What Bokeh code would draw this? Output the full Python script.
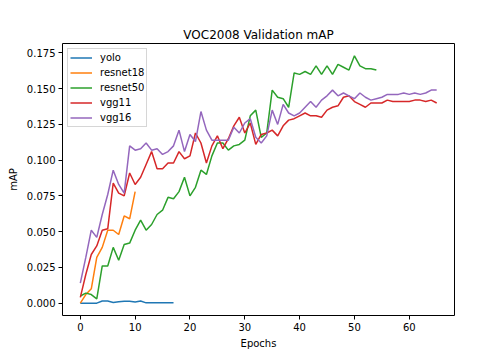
from bokeh.plotting import figure
from bokeh.models import Range1d, FixedTicker, PrintfTickFormatter, Legend
from bokeh.embed import file_html
from bokeh.resources import INLINE

yolo = [0.000, 0.000, 0.000, 0.000, 0.0015, 0.0015, 0.0005, 0.001, 0.0013, 0.0013,
        0.0008, 0.0015, 0.0002, 0.0002, 0.0002, 0.0002, 0.0002, 0.0002]
resnet18 = [0.000, 0.006, 0.010, 0.032, 0.039, 0.051, 0.051, 0.048, 0.061, 0.059, 0.078]
resnet50 = [0.005, 0.007, 0.006, 0.003, 0.026, 0.026, 0.039, 0.030, 0.041, 0.042,
            0.051, 0.058, 0.051, 0.055, 0.062, 0.065, 0.074, 0.073, 0.078, 0.088,
            0.075, 0.081, 0.093, 0.090, 0.103, 0.112, 0.112, 0.107, 0.110, 0.111,
            0.114, 0.131, 0.135, 0.116, 0.119, 0.149, 0.144, 0.143, 0.137, 0.161,
            0.160, 0.162, 0.160, 0.166, 0.160, 0.166, 0.160, 0.167, 0.165, 0.163,
            0.173, 0.166, 0.164, 0.164, 0.163]
vgg11 = [0.004, 0.020, 0.034, 0.040, 0.051, 0.052, 0.084, 0.077, 0.075, 0.091,
         0.083, 0.088, 0.097, 0.106, 0.094, 0.094, 0.098, 0.098, 0.106, 0.101,
         0.103, 0.119, 0.112, 0.098, 0.110, 0.117, 0.108, 0.115, 0.124, 0.130,
         0.119, 0.126, 0.111, 0.118, 0.119, 0.121, 0.117, 0.124, 0.128, 0.129,
         0.131, 0.133, 0.131, 0.131, 0.130, 0.135, 0.137, 0.138, 0.144, 0.145,
         0.141, 0.139, 0.137, 0.140, 0.140, 0.140, 0.142, 0.141, 0.141, 0.141,
         0.141, 0.142, 0.142, 0.141, 0.142, 0.140]
vgg16 = [0.014, 0.032, 0.051, 0.046, 0.062, 0.076, 0.093, 0.083, 0.077, 0.110,
         0.107, 0.108, 0.112, 0.107, 0.108, 0.104, 0.106, 0.110, 0.121, 0.106,
         0.118, 0.113, 0.134, 0.121, 0.114, 0.114, 0.114, 0.114, 0.123, 0.119,
         0.126, 0.129, 0.116, 0.112, 0.117, 0.135, 0.125, 0.139, 0.133, 0.131,
         0.133, 0.137, 0.141, 0.137, 0.142, 0.145, 0.149, 0.145, 0.147, 0.145,
         0.143, 0.147, 0.144, 0.142, 0.143, 0.144, 0.146, 0.146, 0.146, 0.147,
         0.146, 0.147, 0.146, 0.147, 0.149, 0.149]

series_names = ["yolo", "resnet18", "resnet50", "vgg11", "vgg16"]
series_vals = [yolo, resnet18, resnet50, vgg11, vgg16]
colors = ["#1f77b4", "#ff7f0e", "#2ca02c", "#d62728", "#9467bd"]
x_ticks = [0, 10, 20, 30, 40, 50, 60]
y_ticks = [0.0, 0.025, 0.05, 0.075, 0.1, 0.125, 0.15, 0.175]

FONT = "DejaVu Sans"

p = figure(frame_width=392, frame_height=272,
           min_border_left=62, min_border_right=34,
           min_border_top=43, min_border_bottom=29,
           x_range=Range1d(-3.25, 68.25), y_range=Range1d(-0.00865, 0.1816),
           output_backend="svg", toolbar_location=None,
           title="VOC2008 Validation mAP")

p.title.align = "center"
p.title.text_font = FONT
p.title.text_font_size = "12px"
p.title.text_font_style = "normal"
p.title.text_color = "black"
p.title.standoff = 4

p.xgrid.visible = False
p.ygrid.visible = False
p.outline_line_color = "black"
p.outline_line_width = 1
p.background_fill_color = "white"
p.border_fill_color = "white"

for ax in (p.xaxis[0], p.yaxis[0]):
    ax.axis_line_color = None
    ax.major_tick_in = 0
    ax.major_tick_out = 4
    ax.major_tick_line_color = "black"
    ax.minor_tick_line_color = None
    ax.major_label_text_font = FONT
    ax.major_label_text_font_size = "10px"
    ax.major_label_text_color = "black"
    ax.axis_label_text_font = FONT
    ax.axis_label_text_font_size = "10px"
    ax.axis_label_text_font_style = "normal"
    ax.axis_label_text_color = "black"

p.xaxis.ticker = FixedTicker(ticks=x_ticks)
p.yaxis.ticker = FixedTicker(ticks=y_ticks)
p.yaxis.formatter = PrintfTickFormatter(format="%.3f")
p.xaxis.axis_label = "Epochs"
p.yaxis.axis_label = "mAP"
p.xaxis.major_label_standoff = 3
p.xaxis.axis_label_standoff = 4
p.yaxis.major_label_standoff = 3
p.yaxis.axis_label_standoff = 5

items = []
for name, vals, c in zip(series_names, series_vals, colors):
    r = p.line(list(range(len(vals))), vals, line_color=c, line_width=1.5)
    items.append((name, [r]))

legend = Legend(items=items, location="top_left")
legend.margin = 5
legend.padding = 2
legend.spacing = 2
legend.label_height = 13
legend.glyph_height = 13
legend.glyph_width = 22
legend.label_standoff = 8
legend.label_text_font = FONT
legend.label_text_font_size = "10px"
legend.label_text_color = "black"
legend.border_line_color = "#cccccc"
legend.border_line_alpha = 0.8
legend.background_fill_alpha = 0.8
p.add_layout(legend)

open("out.html", "w").write(file_html(p, INLINE))
